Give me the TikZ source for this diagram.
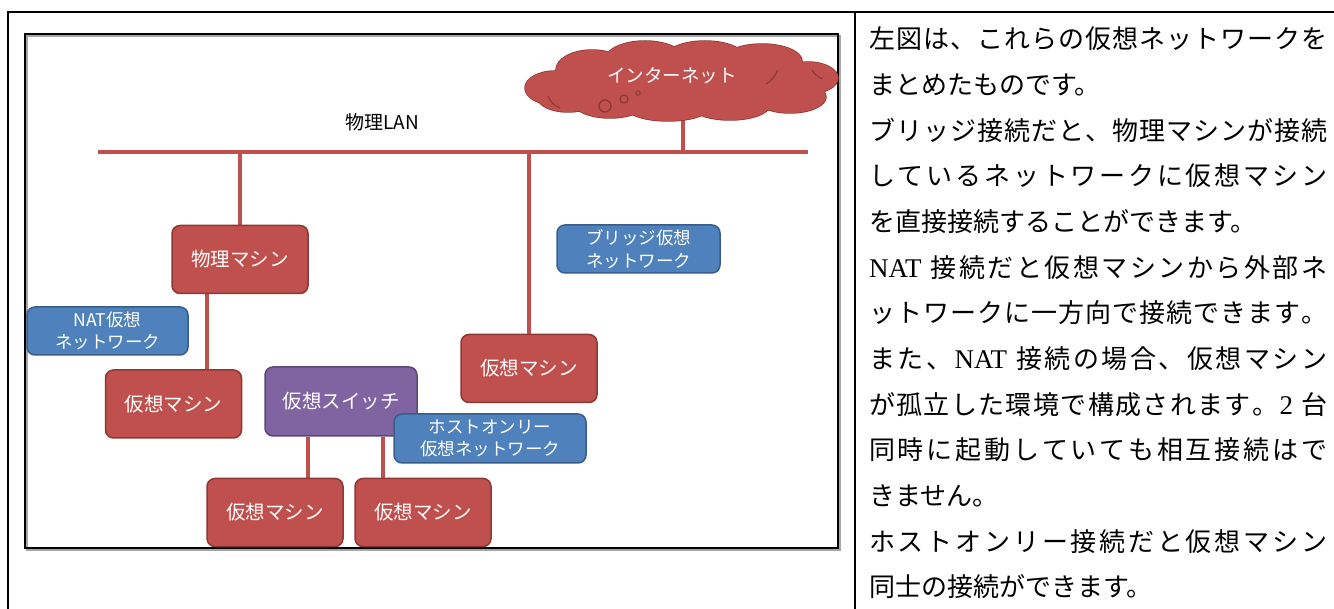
\documentclass[tikz,border=0pt]{standalone}
\usepackage{fontspec}
\newfontfamily\jp{Noto Sans CJK JP}
\newfontfamily\serif{Liberation Serif}
\usetikzlibrary{backgrounds}
\definecolor{vred}{HTML}{C0504D}
\definecolor{vredd}{HTML}{8C3836}
\definecolor{vblue}{HTML}{4F81BD}
\definecolor{vblued}{HTML}{385D8A}
\definecolor{vpurp}{HTML}{8064A2}
\definecolor{vpurpd}{HTML}{5C4776}
\makeatletter
\newcommand\jfill[2]{\hbox to #1{\@tfor\jtok:=#2\do{{\jtok}\hfil}\unskip}}
\makeatother
\tikzset{
 box/.style={draw=vredd, fill=vred, rounded corners=8pt, line width=1.5pt, text=white,
   font=\jp\fontsize{19.5}{23}\selectfont, inner sep=0pt, align=center},
 vm/.style={box, minimum width=136pt, minimum height=68pt},
 switchbox/.style={box, draw=vpurpd, fill=vpurp, minimum width=152pt, minimum height=69pt},
 netlbl/.style={box, draw=vblued, fill=vblue, font=\jp\fontsize{17.5}{22.5}\selectfont},
 link/.style={draw=vred, line width=4pt},
 rtext/.style={anchor=west, inner sep=0pt, font=\jp\fontsize{26}{26}\selectfont,
   text height=22.9pt, text depth=3.1pt},
 frameline/.style={line width=2pt, draw=black},
 puffline/.style={draw=vredd, line width=1.5pt}
}
\def\puffs{555/88/30/17, 592/70/36/20, 645/60/40/19, 705/58/40/17, 762/61/40/17,
  808/78/30/16, 790/97/36/16, 730/105/40/15, 668/107/42/14, 610/103/36/15, 568/98/30/14}
\begin{document}
\begin{tikzpicture}[x=1pt,y=-1pt]
\useasboundingbox (0,0) rectangle (1334,609);
% table
\draw[frameline] (8,609) -- (8,12) -- (1334,12);
\draw[frameline] (855,12) -- (855,609);
% inner frame
\draw[line width=1.5pt, draw=black!35] (27,36) rectangle (840,550);
\draw[line width=1.8pt] (25,34) rectangle (838,548);

% LAN
\coordinate (lanL) at (98,152);
\coordinate (lanR) at (808,152);
\node[font=\jp\fontsize{19}{23}\selectfont, inner sep=0pt] (lanlbl) at (382,122) {物理LAN};

% cloud (union of puffs)
\foreach \cx/\cy/\rx/\ry in \puffs
  \draw[puffline, fill=vred] (\cx,\cy) ellipse [x radius=\rx pt, y radius=\ry pt];
\foreach \cx/\cy/\rx/\ry in \puffs
  \fill[vred] (\cx,\cy) ellipse [x radius=\rx pt, y radius=\ry pt];
\fill[vred] (681,84) ellipse [x radius=130pt, y radius=26pt];
\draw[puffline, line width=1.1pt] (548,96) arc[start angle=200, end angle=250, radius=20pt];
\draw[puffline, line width=1.1pt] (766,84) arc[start angle=-60, end angle=-20, radius=26pt];
\draw[puffline, line width=1.1pt] (812,70) arc[start angle=210, end angle=250, radius=20pt];
\draw[vredd, line width=1.3pt] (605,106) circle [radius=6pt];
\draw[vredd, line width=1.2pt] (624,99) circle [radius=4pt];
\draw[vredd, line width=1pt] (638,93) circle [radius=2.2pt];
\node[font=\jp\fontsize{18.5}{22}\selectfont, text=white, inner sep=0pt] (inettxt) at (672,76) {インターネット};
\coordinate (inet) at (683,112);

% nodes
\node[vm] (pm) at (240,259.5) {物理マシン};
\node[netlbl, minimum width=161pt, minimum height=48pt] (nat) at (107.5,331) {NAT仮想\\ネットワーク};
\node[vm] (vmA) at (173.5,404) {仮想マシン};
\node[vm] (vmR) at (529,368.5) {仮想マシン};
\node[netlbl, minimum width=163pt, minimum height=48pt] (br) at (638.5,249) {ブリッジ仮想\\ネットワーク};
\node[switchbox] (sw) at (341,401.5) {仮想スイッチ};
\node[netlbl, minimum width=192pt, minimum height=49pt] (ho) at (490,438.5) {ホストオンリー\\仮想ネットワーク};
\node[vm] (vmB) at (275,512.5) {仮想マシン};
\node[vm] (vmC) at (423,512.5) {仮想マシン};

\begin{scope}[on background layer]
\draw[link] (lanL) -- (lanR);
\draw[link] (inet) -- (inet |- lanL);
\draw[link] (pm.north) -- (pm.north |- lanL);
\draw[link] (vmR.north) -- (vmR.north |- lanL);
\draw[link] ([xshift=-33pt]pm.south) -- ([xshift=-33pt]pm.south |- vmA.north);
\draw[link] ([xshift=-33pt]sw.south) -- ([xshift=-33pt]sw.south |- vmB.north);
\draw[link] ([xshift=42pt]sw.south) -- ([xshift=42pt]sw.south |- vmC.north);
\end{scope}

% right text
\node[rtext] (t1) at (869,39) {\jfill{458pt}{左図は、これらの仮想ネットワークを}};
\node[rtext] (t2) at (869,84.7) {まとめたものです。};
\node[rtext] (t3) at (869,130.3) {\jfill{458pt}{ブリッジ接続だと、物理マシンが接続}};
\node[rtext] (t4) at (869,176) {\jfill{458pt}{しているネットワークに仮想マシン}};
\node[rtext] (t5) at (869,221.7) {を直接接続することができます。};
\node[rtext] (t6) at (869,267.3) {\jfill{458pt}{{\serif\fontsize{27}{27}\selectfont NAT\ }接続だと仮想マシンから外部ネ}};
\node[rtext] (t7) at (869,313) {\jfill{458pt}{ットワークに一方向で接続できます。}};
\node[rtext] (t8) at (869,358.7) {\jfill{458pt}{また、{\serif\fontsize{27}{27}\selectfont NAT\ }接続の場合、仮想マシン}};
\node[rtext] (t9) at (869,404.3) {\jfill{458pt}{が孤立した環境で構成されます。{\serif\fontsize{27}{27}\selectfont 2\ }台}};
\node[rtext] (t10) at (869,450) {\jfill{458pt}{同時に起動していても相互接続はで}};
\node[rtext] (t11) at (869,495.7) {きません。};
\node[rtext] (t12) at (869,541.3) {\jfill{458pt}{ホストオンリー接続だと仮想マシン}};
\node[rtext] (t13) at (869,587) {同士の接続ができます。};
\end{tikzpicture}
\end{document}
